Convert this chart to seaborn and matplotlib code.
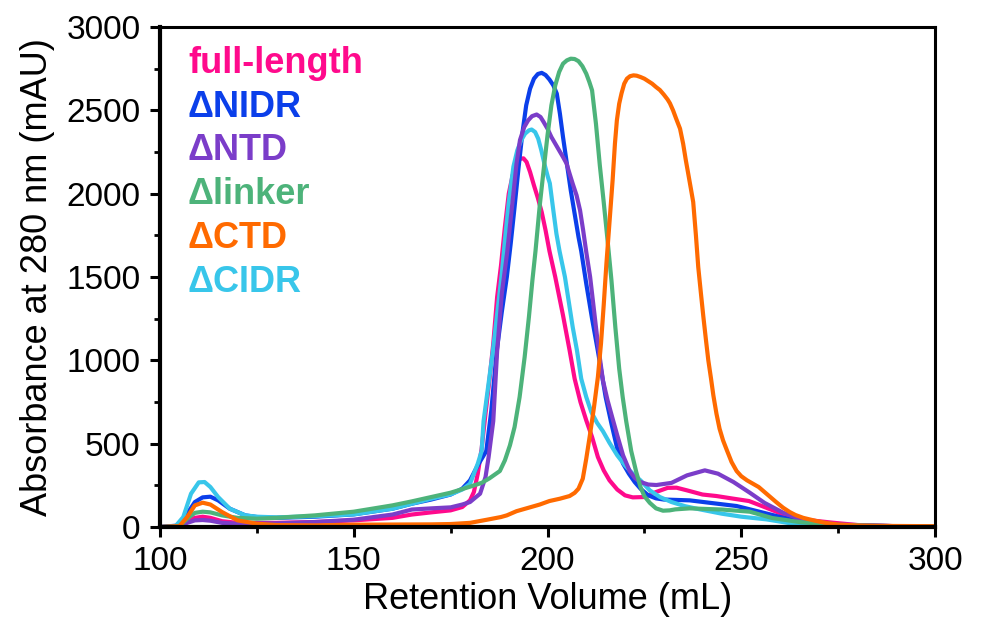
"""
Size-exclusion chromatograms: full-length protein vs. deletion constructs.
Absorbance at 280 nm against retention volume, one trace per construct.

Writes out.png (989x624).
"""

import matplotlib

matplotlib.use("Agg")
import matplotlib.pyplot as plt
import pandas as pd
import seaborn as sns
from matplotlib.ticker import MultipleLocator

# --- traces (mL, mAU) ----------------------------------------------------
FULL_X = [100, 105, 107, 109, 111, 113, 116, 120, 130, 140, 150, 160, 165, 170,
          175, 178, 180, 181, 182, 183, 184, 185, 186, 187, 188, 189, 190,
          191, 192, 193, 193.8, 194.6, 195.5, 196.5, 197.5, 198.5, 199.5,
          200.5, 202, 204, 205.7, 207, 208.5, 210, 211.5, 213, 214.5, 216,
          218, 220, 222, 225, 228, 231, 233.3, 236, 240, 243.6, 248, 252,
          256, 260.8, 266, 273.6, 280, 290, 300]
FULL_Y = [0, 5, 40, 55, 62, 55, 35, 25, 25, 30, 40, 55, 75, 88,
          100, 120, 160, 210, 320, 470, 680, 880, 1100, 1380, 1570, 1800, 2000,
          2110, 2180, 2210, 2212, 2190, 2130, 2050, 1975, 1890, 1780,
          1656, 1500, 1270, 1060, 890, 750, 640, 540, 420, 340, 280,
          225, 190, 178, 180, 210, 235, 236, 220, 195, 186, 170, 156,
          120, 76, 45, 26, 12, 5, 5]

NIDR_X = [100, 105, 107, 109, 111, 113, 115, 118, 122, 125, 130, 140, 150, 160,
          165, 170, 175, 178, 180, 182, 184.2, 185.5, 186.9, 188.2, 189.5,
          190.5, 191.5, 192.5, 193.5, 194.5, 195.5, 196.5, 197.5, 198.5, 199.5,
          200.5, 201.5, 202.4, 203.2, 204, 205, 206, 207, 208, 208.7, 210,
          211.5, 213, 214, 215, 216.5, 218, 219.5, 221, 222.5, 224, 226, 228,
          230, 236.7, 242, 248.8, 255, 260.8, 266, 275, 290, 300]
NIDR_Y = [0, 10, 80, 150, 178, 182, 160, 110, 70, 60, 55, 62, 76, 110,
          140, 165, 195, 230, 280, 370, 456, 700, 1056, 1290, 1500,
          1700, 1920, 2150, 2360, 2530, 2630, 2690, 2718, 2725, 2712,
          2685, 2650, 2600, 2480, 2340, 2180, 2020, 1880, 1740, 1656, 1460,
          1250, 1056, 920, 780, 620, 470, 380, 320, 270, 230, 190, 172,
          165, 160, 145, 126, 90, 56, 30, 12, 5, 3]

NTD_X = [100, 105, 107, 109, 111, 113, 116, 120, 130, 140, 150, 160, 165, 170,
         175, 178, 180, 182.6, 184, 184.8, 186, 187, 188.2, 189.6, 190.5, 191.2,
         192, 192.9, 194, 195, 196, 197.2, 198.2, 199, 200, 201, 202, 203, 204,
         204.9, 205.7, 206.5, 207.5, 208.4, 209.2, 210, 211, 212, 213, 214.3,
         215.5, 216.8, 218, 219.5, 221.2, 222.5, 224, 226, 228.1, 232, 236,
         240.6, 244, 248, 252.2, 256, 260.8, 266, 275, 290, 300]
NTD_Y = [0, 5, 25, 40, 42, 38, 25, 20, 22, 30, 44, 75, 105, 112,
         118, 135, 150, 200, 300, 420, 636, 1056, 1400, 1650, 1850, 2000,
         2180, 2322, 2400, 2440, 2465, 2475, 2460, 2430, 2390, 2340, 2300, 2260, 2220,
         2182, 2120, 2060, 1990, 1900, 1780, 1650, 1500, 1300, 1100, 880,
         760, 650, 550, 430, 336, 295, 270, 255, 252, 265, 310,
         340, 320, 270, 206, 145, 86, 40, 15, 5, 3]

LINKER_X = [100, 105, 107, 109, 111, 113, 116, 120, 125, 130, 140, 150, 160,
            165, 170, 175, 180, 183, 185, 187.7, 189, 190.3, 191.5, 192.8,
            194.1, 195.2, 196.1, 196.9, 198, 198.9, 200, 201, 202, 203, 204, 205,
            206, 207, 208, 209, 210, 210.8, 211.5, 212.5, 213.5, 214.5, 215.5,
            216.5, 217.5, 218.5, 219.4, 220.3, 221.6, 222.9, 224, 225, 226.4,
            228, 229.8, 231.5, 233, 236.7, 245, 252.2, 258, 265, 275, 290, 300]
LINKER_Y = [0, 5, 50, 85, 92, 88, 70, 55, 50, 55, 70, 92, 130,
            154, 180, 206, 242, 265, 292, 336, 400, 490, 600, 780,
            1020, 1260, 1480, 1656, 1930, 2122, 2350, 2530, 2650, 2730, 2780, 2800,
            2810, 2808, 2795, 2765, 2720, 2670, 2620, 2420, 2170, 1950, 1720,
            1480, 1200, 950, 780, 636, 456, 330, 240, 185, 145,
            112, 98, 100, 106, 112, 105, 92, 54, 30, 12, 5, 3]

CTD_X = [100, 105, 107, 109, 111, 113, 116, 120, 125, 130, 140, 150, 160, 170,
         175, 180, 184.4, 188, 189.5, 192, 195, 198, 200.5, 203.2, 205.7,
         207, 208, 209.1, 210, 211, 212, 213, 213.8, 214.5, 215.2, 216, 216.8,
         217.4, 217.9, 218.5, 219.1, 219.8, 220.5, 221.3, 222.2, 223, 224, 225,
         226, 227, 228, 229, 230, 231, 231.6, 232.4, 233.2, 234.2, 235, 235.7,
         236.3, 237, 237.6, 238.3, 238.9, 239.6, 240.2, 240.9, 241.5, 242.2,
         242.8, 243.6, 244.4, 245.3, 246.3, 247.5, 248.8, 250, 251.5, 253,
         254.5, 256, 257.5, 259, 260.8, 262.5, 264, 266, 269.4, 272, 275, 280,
         285, 300]
CTD_Y = [0, 5, 60, 130, 146, 135, 90, 40, 20, 12, 10, 14, 15, 16,
         18, 25, 44, 60, 70, 95, 115, 135, 156, 170, 186,
         205, 230, 290, 410, 560, 720, 900, 1100, 1330, 1580, 1830, 2080,
         2300, 2440, 2540, 2602, 2660, 2690, 2705, 2710, 2708, 2700, 2690,
         2675, 2660, 2640, 2622, 2595, 2565, 2542, 2500, 2450, 2390, 2300, 2200,
         2122, 2030, 1950, 1750, 1560, 1400, 1266, 1120, 1000, 890,
         790, 680, 590, 520, 460, 390, 336, 305, 280, 260,
         240, 210, 180, 150, 116, 90, 72, 55, 36, 24, 15, 9,
         7, 5]

CIDR_X = [100, 104, 106, 108, 110, 111.5, 113, 115, 118, 122, 125, 130, 140,
          150, 160, 165, 170, 175, 178, 180, 182, 183, 183.5, 185.9, 188.2,
          189, 190, 191.2, 192.2, 193.2, 194.2, 195.2, 195.9, 196.8, 197.6,
          198.4, 199.3, 200.1, 200.6, 201.5, 202.3, 203.1, 204.5, 205.5, 206.5,
          207.6, 208.7, 210, 211.3, 212.8, 214.3, 216, 218, 220, 222, 224,
          226.4, 229, 232, 235.5, 239.3, 245, 250, 256.5, 262, 270, 280, 300]
CIDR_Y = [0, 5, 60, 200, 268, 270, 240, 180, 110, 70, 62, 58, 65,
          76, 110, 140, 170, 196, 225, 260, 380, 456, 636, 1056, 1522,
          1720, 1950, 2162, 2260, 2320, 2360, 2380, 2385, 2370, 2330,
          2260, 2170, 2100, 2062, 1900, 1760, 1656, 1500, 1350, 1200,
          1060, 890, 780, 690, 625, 575, 505, 430, 370, 320, 280,
          220, 180, 150, 125, 106, 80, 62, 46, 25, 12, 5, 3]

LABELS = ["full-length", "\u0394NIDR", "\u0394NTD", "\u0394linker", "\u0394CTD", "\u0394CIDR"]
COLORS = ["#FF0A8C", "#0B3FEA", "#7B3DC9", "#4DB37A", "#FF6A00", "#38C6EA"]
TRACES = [(FULL_X, FULL_Y), (NIDR_X, NIDR_Y), (NTD_X, NTD_Y),
          (LINKER_X, LINKER_Y), (CTD_X, CTD_Y), (CIDR_X, CIDR_Y)]
DRAW_ORDER = ["full-length", "\u0394NIDR", "\u0394CIDR", "\u0394NTD", "\u0394linker", "\u0394CTD"]


def main() -> None:
    sns.set_theme(style="ticks")
    plt.rcParams["font.family"] = ["Liberation Sans", "DejaVu Sans"]
    plt.rcParams.update({"text.color": "black", "axes.labelcolor": "black",
                         "xtick.color": "black", "ytick.color": "black"})

    # long-form frame, one row per point
    frames = []
    for name, (xs, ys) in zip(LABELS, TRACES):
        frames.append(pd.DataFrame({"volume": xs, "abs": ys, "construct": name}))
    df = pd.concat(frames, ignore_index=True)
    palette = dict(zip(LABELS, COLORS))

    fig = plt.figure(figsize=(9.89, 6.24), dpi=100)
    ax = fig.add_axes([0.1618, 0.1554, 0.7836, 0.8013])

    for name in DRAW_ORDER:
        sub = df[df["construct"] == name]
        sns.lineplot(data=sub, x="volume", y="abs", color=palette[name],
                     linewidth=3.0, estimator=None, sort=False, ax=ax,
                     solid_joinstyle="round", solid_capstyle="round")

    ax.set_xlim(100, 300)
    ax.set_ylim(0, 3000)
    ax.xaxis.set_major_locator(MultipleLocator(50))
    ax.xaxis.set_minor_locator(MultipleLocator(25))
    ax.yaxis.set_major_locator(MultipleLocator(500))
    ax.yaxis.set_minor_locator(MultipleLocator(250))

    for side in ["left", "bottom"]:
        ax.spines[side].set_linewidth(3.0)
    for side in ["top", "right"]:
        ax.spines[side].set_linewidth(2.2)
    for sp in ax.spines.values():
        sp.set_color("black")
        sp.set_visible(True)

    ax.tick_params(which="major", length=7, width=2.2, labelsize=24,
                   direction="out", colors="black")
    ax.tick_params(axis="y", which="major", pad=7)
    ax.tick_params(axis="x", which="major", pad=7)
    ax.tick_params(which="minor", length=4.5, width=2.0, direction="out")
    ax.tick_params(top=False, right=False, which="both")

    ax.set_xlabel("Retention Volume (mL)", fontsize=26, labelpad=3)
    ax.set_ylabel("Absorbance at 280 nm (mAU)", fontsize=26, labelpad=8)

    # coloured names in place of a legend box
    for i, (name, col) in enumerate(zip(LABELS, COLORS)):
        ax.text(0.036, 0.908 - i * 0.0874, name, color=col, fontsize=26,
                fontweight="bold", transform=ax.transAxes, va="baseline")

    fig.savefig("out.png", dpi=100)
    plt.close(fig)


if __name__ == "__main__":
    main()
